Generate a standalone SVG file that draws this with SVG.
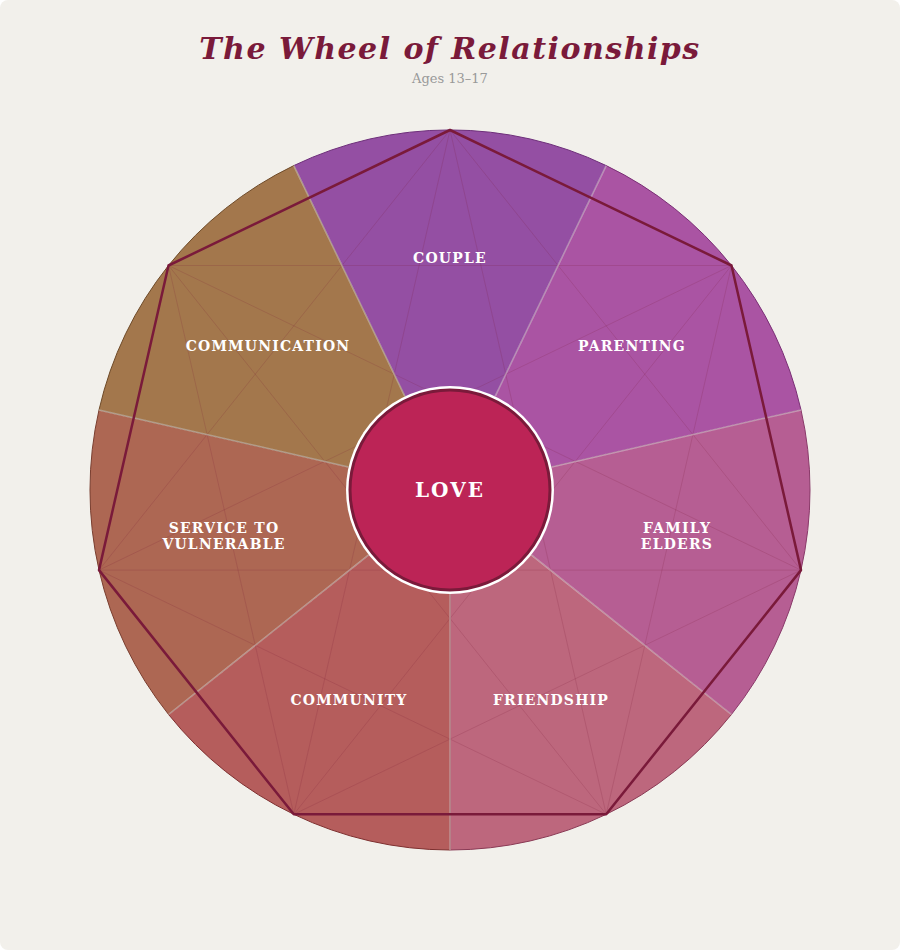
<svg xmlns="http://www.w3.org/2000/svg" width="900" height="950" viewBox="0 0 900 950">
<style>
.lbl{font-family:"DejaVu Serif",serif;font-weight:bold;font-size:14px;fill:#fff;letter-spacing:1.2px;text-anchor:middle}
.sep{stroke:#fff;stroke-opacity:0.45;stroke-width:1.5}
.chord{stroke:#7a1a3a;stroke-opacity:0.18;stroke-width:1;fill:none}
</style>
<rect x="0" y="0" width="900" height="950" rx="8" fill="#f2f0eb"/>
<text x="450" y="59" text-anchor="middle" font-family="DejaVu Serif,serif" font-style="italic" font-weight="bold" font-size="30" fill="#7a1a3a" letter-spacing="1.5">The Wheel of Relationships</text>
<text x="450" y="83" text-anchor="middle" font-family="DejaVu Serif,serif" font-size="13" fill="#999">Ages 13–17</text>
<g id="seg-couple"><path d="M450 490L293.8 165.6A360 360 0 0 1 606.2 165.6Z" fill="#944fa3" stroke="#6e2f7a" stroke-width="1"/></g>
<g id="seg-parenting"><path d="M450 490L606.2 165.6A360 360 0 0 1 801 409.9Z" fill="#aa54a3" stroke="#7a2f75" stroke-width="1"/></g>
<g id="seg-elders"><path d="M450 490L801 409.9A360 360 0 0 1 731.4 714.5Z" fill="#b65e93" stroke="#8a3a6a" stroke-width="1"/></g>
<g id="seg-friendship"><path d="M450 490L731.4 714.5A360 360 0 0 1 450 850Z" fill="#bd677d" stroke="#8a3a55" stroke-width="1"/></g>
<g id="seg-community"><path d="M450 490L450 850A360 360 0 0 1 168.6 714.5Z" fill="#b55d5c" stroke="#7e3030" stroke-width="1"/></g>
<g id="seg-service"><path d="M450 490L168.6 714.5A360 360 0 0 1 99 409.9Z" fill="#ad6753" stroke="#7a3f30" stroke-width="1"/></g>
<g id="seg-communication"><path d="M450 490L99 409.9A360 360 0 0 1 293.8 165.6Z" fill="#a3774c" stroke="#6e4a28" stroke-width="1"/></g>
<g id="connectors">
<g class="chord">
<path d="M450 130L801 570.1M731.5 265.5L606.2 814.3M801 570.1L293.8 814.3M606.2 814.3L99 570.1M293.8 814.3L168.5 265.5M99 570.1L450 130M168.5 265.5L731.5 265.5"/>
<path d="M450 130L606.2 814.3M731.5 265.5L293.8 814.3M801 570.1L99 570.1M606.2 814.3L168.5 265.5M293.8 814.3L450 130M99 570.1L731.5 265.5M168.5 265.5L801 570.1"/>
</g>
<g class="sep">
<line x1="404.9" y1="396.3" x2="293.8" y2="165.6"/><line x1="495.1" y1="396.3" x2="606.2" y2="165.6"/>
<line x1="551.4" y1="466.9" x2="801" y2="409.9"/><line x1="348.6" y1="466.9" x2="99" y2="409.9"/>
<line x1="531.3" y1="554.8" x2="731.4" y2="714.5"/><line x1="368.7" y1="554.8" x2="168.6" y2="714.5"/>
<line x1="450" y1="594" x2="450" y2="850"/>
</g>
<polygon points="450,130 731.5,265.5 801,570.1 606.2,814.3 293.8,814.3 99,570.1 168.5,265.5" fill="none" stroke="#7a1a3a" stroke-width="2.5" stroke-linejoin="round"/>
</g>
<g id="labels">
<text class="lbl" x="450" y="263">COUPLE</text>
<text class="lbl" x="632" y="351">PARENTING</text>
<text class="lbl" x="677" y="533" font-size="13">FAMILY</text>
<text class="lbl" x="677" y="549" font-size="13">ELDERS</text>
<text class="lbl" x="551" y="705">FRIENDSHIP</text>
<text class="lbl" x="349" y="705">COMMUNITY</text>
<text class="lbl" x="224" y="533" font-size="13">SERVICE TO</text>
<text class="lbl" x="224" y="549" font-size="13">VULNERABLE</text>
<text class="lbl" x="268" y="351">COMMUNICATION</text>
</g>
<g id="love">
<circle cx="450" cy="490" r="104" fill="#fff"/>
<circle cx="450" cy="490" r="100" fill="#bc2456" stroke="#7a1a3a" stroke-width="3"/>
<text x="450" y="497" text-anchor="middle" font-family="DejaVu Serif,serif" font-weight="bold" font-size="20" fill="#fff" letter-spacing="2">LOVE</text>
</g>
</svg>
